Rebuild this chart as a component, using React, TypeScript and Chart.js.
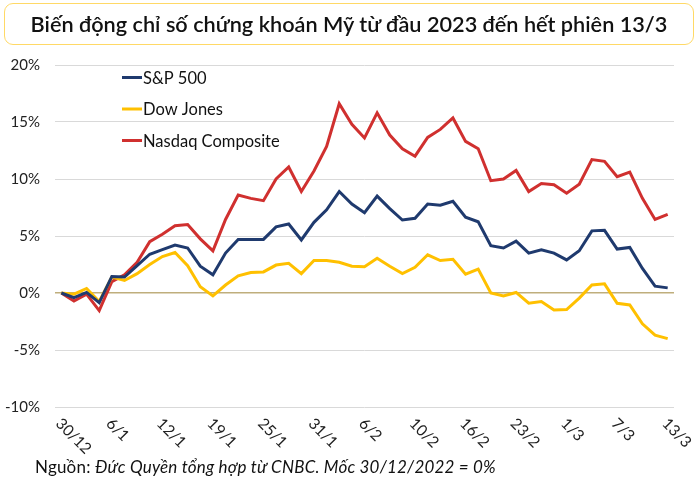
import React, { useEffect, useRef } from 'react';
import Chart from 'chart.js/auto';

const dates = [
  '30/12', '3/1', '4/1', '5/1', '6/1', '9/1', '10/1', '11/1', '12/1', '13/1',
  '17/1', '18/1', '19/1', '20/1', '23/1', '24/1', '25/1', '26/1', '27/1', '30/1',
  '31/1', '1/2', '2/2', '3/2', '6/2', '7/2', '8/2', '9/2', '10/2', '13/2',
  '14/2', '15/2', '16/2', '17/2', '21/2', '22/2', '23/2', '24/2', '27/2', '28/2',
  '1/3', '2/3', '3/3', '6/3', '7/3', '8/3', '9/3', '10/3', '13/3',
];

const sp500 = [
  0, -0.4, 0.05, -0.85, 1.45, 1.4, 2.4, 3.4, 3.8, 4.2,
  3.95, 2.35, 1.6, 3.5, 4.7, 4.7, 4.7, 5.8, 6.05, 4.65,
  6.2, 7.3, 8.9, 7.8, 7.05, 8.5, 7.4, 6.4, 6.55, 7.8,
  7.7, 8.05, 6.65, 6.25, 4.15, 3.95, 4.55, 3.5, 3.8, 3.5,
  2.9, 3.7, 5.45, 5.5, 3.85, 4.0, 2.15, 0.6, 0.45,
];

const dowJones = [
  0, -0.1, 0.4, -0.75, 1.4, 1.1, 1.7, 2.5, 3.2, 3.55,
  2.4, 0.55, -0.25, 0.7, 1.5, 1.8, 1.85, 2.45, 2.6, 1.7,
  2.85, 2.85, 2.7, 2.35, 2.3, 3.05, 2.35, 1.7, 2.25, 3.35,
  2.85, 2.95, 1.65, 2.1, 0.0, -0.25, 0.05, -0.9, -0.75, -1.5,
  -1.45, -0.45, 0.7, 0.8, -0.9, -1.05, -2.7, -3.7, -4.0,
];

const nasdaq = [
  0, -0.7, -0.1, -1.55, 1.0, 1.6, 2.7, 4.5, 5.15, 5.9,
  6.0, 4.75, 3.7, 6.45, 8.6, 8.3, 8.1, 10.0, 11.05, 8.9,
  10.7, 12.85, 16.6, 14.8, 13.6, 15.8, 13.85, 12.65, 12.0, 13.65,
  14.35, 15.35, 13.3, 12.65, 9.85, 10.0, 10.75, 8.9, 9.6, 9.5,
  8.75, 9.55, 11.7, 11.55, 10.2, 10.6, 8.3, 6.45, 6.9,
];

const seriesNames = ['S&P 500', 'Dow Jones', 'Nasdaq Composite'];
const seriesColors = ['#1F3A6E', '#FFC000', '#D0302F'];
const yTicks = [-10, -5, 0, 5, 10, 15, 20];
const LABEL_STEP = 4;

const FONT = 'Lato, "Noto Sans", sans-serif';

const customDraw = {
  id: 'customDraw',
  afterDraw(chart: any) {
    const ctx = chart.ctx;
    const xScale = chart.scales.x;
    const area = chart.chartArea;
    ctx.save();
    // rotated x labels (top-left -> bottom-right)
    ctx.font = `15.5px ${FONT}`;
    ctx.fillStyle = '#222222';
    ctx.textAlign = 'left';
    ctx.textBaseline = 'middle';
    dates.forEach((lab, i) => {
      if (i % LABEL_STEP !== 0) return;
      const x = xScale.getPixelForValue(i);
      ctx.save();
      ctx.translate(x - 3, area.bottom + 14);
      ctx.rotate(Math.PI / 4);
      ctx.fillText(lab, 0, 0);
      ctx.restore();
    });
    // legend
    ctx.font = `16.5px ${FONT}`;
    chart.data.datasets.forEach((ds: any, k: number) => {
      const y = area.top + 12.5 + k * 31.5;
      const x0 = area.left + 67;
      ctx.strokeStyle = ds.borderColor;
      ctx.lineWidth = 3;
      ctx.beginPath();
      ctx.moveTo(x0, y);
      ctx.lineTo(x0 + 20, y);
      ctx.stroke();
      ctx.fillStyle = '#111111';
      ctx.fillText(ds.label, x0 + 21, y + 1);
    });
    ctx.restore();
  },
};

export default function App() {
  const ref = useRef<HTMLCanvasElement>(null);

  useEffect(() => {
    document.body.style.margin = '0';
    let chart: Chart | null = null;
    let cancelled = false;
    const make = () => {
      if (cancelled || !ref.current) return;
      chart = new Chart(ref.current, {
        type: 'line',
        data: {
          labels: dates,
          datasets: [sp500, dowJones, nasdaq].map((d, k) => ({
            label: seriesNames[k],
            data: d,
            borderColor: seriesColors[k],
            backgroundColor: seriesColors[k],
            borderWidth: 3,
            pointRadius: 0,
            tension: 0,
            fill: false,
          })),
        },
        options: {
          animation: false,
          responsive: false,
          maintainAspectRatio: false,
          layout: { padding: { left: 0, right: 26, top: 65, bottom: 82 } },
          plugins: {
            legend: { display: false },
            tooltip: { enabled: false },
            title: { display: false },
          },
          scales: {
            x: {
              offset: true,
              grid: { display: false, drawTicks: false },
              border: { display: false },
              ticks: { display: false },
            },
            y: {
              min: -10,
              max: 20,
              afterBuildTicks: (axis: any) => {
                axis.ticks = yTicks.map((v) => ({ value: v }));
              },
              afterFit: (axis: any) => {
                axis.width = 55;
              },
              grid: {
                drawTicks: false,
                color: (c: any) => (c.tick && c.tick.value === 0 ? '#BFAE7C' : '#D9D9D9'),
                lineWidth: (c: any) => (c.tick && c.tick.value === 0 ? 1.5 : 1),
              },
              border: { display: false },
              ticks: {
                padding: 15,
                color: '#222222',
                font: { family: FONT, size: 15 },
                callback: (v: any) => `${v}%`,
              },
            },
          },
        },
        plugins: [customDraw],
      });
    };
    const fontsReady = (document as any).fonts
      ? Promise.all([
          (document as any).fonts.load('15px Lato'),
          (document as any).fonts.load('italic 15px Lato'),
          (document as any).fonts.load('600 15px Lato'),
        ]).catch(() => null)
      : Promise.resolve(null);
    fontsReady.then(make);
    return () => {
      cancelled = true;
      if (chart) chart.destroy();
    };
  }, []);

  return (
    <div style={{ position: 'fixed', left: 0, top: 0, width: 700, height: 489, background: '#ffffff', fontFamily: FONT }}>
      <canvas ref={ref} width={700} height={489} style={{ position: 'absolute', left: 0, top: 0, width: 700, height: 489 }} />
      <div
        style={{
          position: 'absolute',
          left: 4,
          top: 3,
          width: 690,
          height: 42,
          border: '1.5px solid #FFD966',
          borderRadius: 9,
          boxSizing: 'border-box',
          display: 'flex',
          alignItems: 'center',
          justifyContent: 'center',
          fontSize: 21.7,
          fontWeight: 600,
          color: '#111111',
          whiteSpace: 'nowrap',
        }}
      >
        Biến động chỉ số chứng khoán Mỹ từ đầu 2023 đến hết phiên 13/3
      </div>
      <div
        style={{
          position: 'absolute',
          left: 35,
          top: 456,
          fontSize: 17,
          letterSpacing: 0.2,
          color: '#111111',
          whiteSpace: 'nowrap',
        }}
      >
        Nguồn: <i>Đức Quyền tổng hợp từ CNBC. Mốc 30/12/2022 = 0%</i>
      </div>
    </div>
  );
}
